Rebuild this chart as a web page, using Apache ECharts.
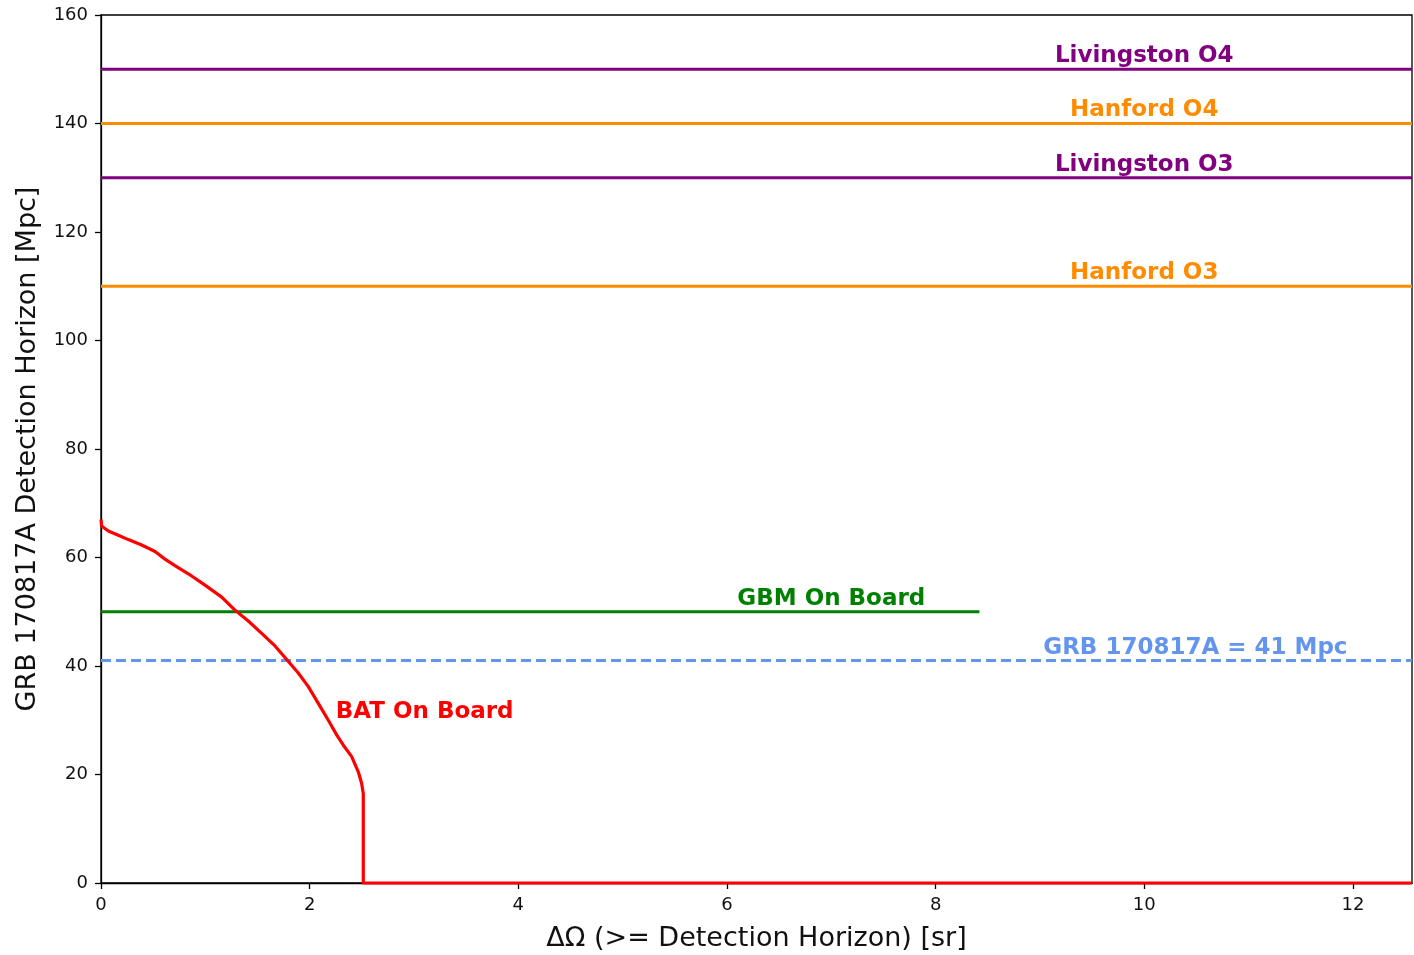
<!DOCTYPE html>
<html>
<head>
<meta charset="utf-8">
<script src="https://cdn.jsdelivr.net/npm/echarts@6/dist/echarts.min.js"></script>
<style>
html,body{margin:0;padding:0;background:#fff;}
#chart{width:1414px;height:955px;}
</style>
</head>
<body>
<div id="chart"></div>
<script>
// ---- data ----
const X_MAX = 4 * Math.PI;              // full sky in sr
const xTicks = [0, 2, 4, 6, 8, 10, 12];
const yTicks = [0, 20, 40, 60, 80, 100, 120, 140, 160];

// BAT On Board curve (ΔΩ [sr], horizon [Mpc])
const batX = [0, 0.006, 0.070, 0.166, 0.262, 0.390, 0.518, 0.613, 0.709, 0.837, 0.997, 1.157, 1.284, 1.412, 1.540, 1.668, 1.780, 1.891, 1.987, 2.083, 2.179, 2.259, 2.323, 2.403, 2.466, 2.498, 2.514, 2.514, X_MAX];
const batY = [67.0, 65.8, 64.9, 64.1, 63.3, 62.3, 61.1, 59.7, 58.5, 57.0, 54.9, 52.7, 50.3, 48.3, 46.0, 43.7, 41.2, 38.7, 36.2, 33.1, 30.0, 27.3, 25.4, 23.3, 20.5, 18.4, 16.5, 0, 0];

// horizontal reference lines
const hLineNames  = ['Livingston O4', 'Hanford O4', 'Livingston O3', 'Hanford O3', 'GBM On Board', 'GRB 170817A = 41 Mpc'];
const hLineValues = [150, 140, 130, 110, 50, 41];
const hLineXEnd   = [X_MAX, X_MAX, X_MAX, X_MAX, 8.42, X_MAX];
const hLineLabelX = [10, 10, 10, 10, 7.0, 10.49];

const batLabel = 'BAT On Board';
const batLabelPos = [2.25, 30];

// ---- styles ----
const PURPLE = '#800080', ORANGE = '#FF8C00', GREEN = '#008000', BLUE = '#6495ED', RED = '#FF0000';
const hLineColors = [PURPLE, ORANGE, PURPLE, ORANGE, GREEN, BLUE];
const hLineTypes  = ['solid', 'solid', 'solid', 'solid', 'solid', [10, 5]];
const FONT = 'DejaVu Sans';

function labelStyle(color) {
  return {
    show: true,
    position: 'inside',
    color: color,
    opacity: 1,
    textBorderWidth: 0,
    textBorderColor: 'transparent',
    fontFamily: FONT,
    fontWeight: 'bold',
    fontSize: 23
  };
}

const series = [];
hLineNames.forEach((name, i) => {
  series.push({
    type: 'line',
    name: name,
    data: [[0, hLineValues[i]], [hLineXEnd[i], hLineValues[i]]],
    showSymbol: false,
    symbol: 'none',
    lineStyle: { color: hLineColors[i], width: 3, type: hLineTypes[i] },
    z: 3,
    silent: true
  });
  series.push({
    type: 'scatter',
    data: [[hLineLabelX[i], hLineValues[i]]],
    symbolSize: 0,
    silent: true,
    z: 5,
    itemStyle: { color: hLineColors[i], opacity: 1 },
    label: Object.assign(labelStyle(hLineColors[i]), { offset: [0, -13], formatter: name })
  });
});

series.push({
  type: 'line',
  name: 'BAT',
  data: batX.map((x, i) => [x, batY[i]]),
  showSymbol: false,
  symbol: 'none',
  clip: false,
  lineStyle: { color: RED, width: 3.2, join: 'round' },
  z: 6,
  silent: true
});
series.push({
  type: 'scatter',
  data: [batLabelPos],
  symbolSize: 0,
  silent: true,
  z: 7,
  itemStyle: { color: RED, opacity: 1 },
  label: Object.assign(labelStyle(RED), { align: 'left', offset: [0, -8], formatter: batLabel })
});

const chart = echarts.init(document.getElementById('chart'), null, { renderer: 'canvas' });
chart.setOption({
  animation: false,
  backgroundColor: '#fff',
  grid: {
    left: 101, top: 15, right: 2, bottom: 72,
    outerBoundsMode: 'none',
    containLabel: false,
    show: true, borderColor: '#000', borderWidth: 1.3, backgroundColor: 'transparent'
  },
  xAxis: {
    type: 'value',
    min: 0,
    max: X_MAX,
    name: 'ΔΩ (>= Detection Horizon) [sr]',
    nameLocation: 'middle',
    nameGap: 42,
    nameTextStyle: { fontFamily: FONT, fontSize: 27, color: '#111' },
    axisLine: { show: true, onZero: false, lineStyle: { color: '#000', width: 1.3 } },
    axisTick: { show: true, length: 6, inside: false, customValues: xTicks, lineStyle: { color: '#000', width: 1.3 } },
    axisLabel: { customValues: xTicks, margin: 13, fontFamily: FONT, fontSize: 18, color: '#111' },
    splitLine: { show: false }
  },
  yAxis: {
    type: 'value',
    min: 0,
    max: 160,
    interval: 20,
    name: 'GRB 170817A Detection Horizon [Mpc]',
    nameLocation: 'middle',
    nameGap: 60,
    nameTextStyle: { fontFamily: FONT, fontSize: 27, color: '#111' },
    axisLine: { show: true, lineStyle: { color: '#000', width: 1.3 } },
    axisTick: { show: true, length: 6, inside: false, customValues: yTicks, lineStyle: { color: '#000', width: 1.3 } },
    axisLabel: { customValues: yTicks, margin: 13, fontFamily: FONT, fontSize: 18, color: '#111' },
    splitLine: { show: false }
  },
  series: series
});
</script>
</body>
</html>
